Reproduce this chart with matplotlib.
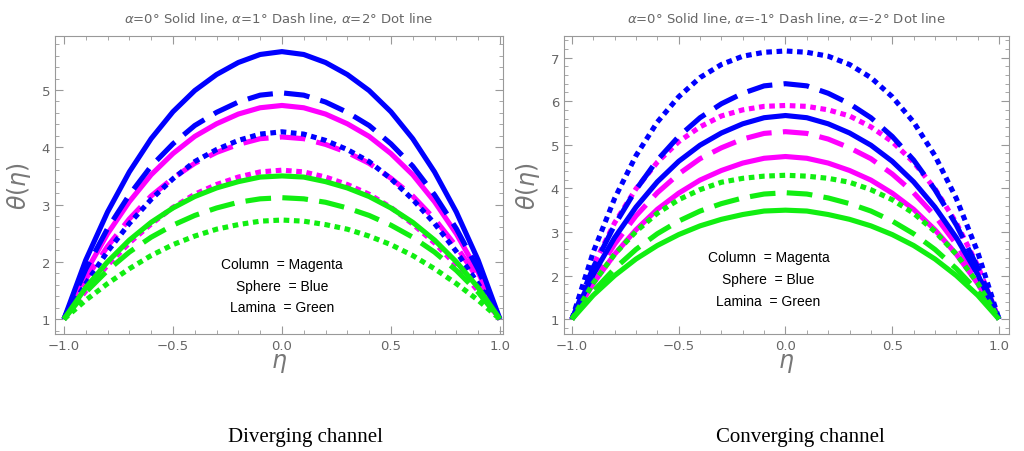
import numpy as np
import matplotlib
matplotlib.use("Agg")
from matplotlib import pyplot as plt
from matplotlib.ticker import MultipleLocator

plt.rcParams['mathtext.fontset'] = 'dejavusans'

# eta grid, -1 .. 1 in steps of 0.1
eta = np.round(np.arange(-1.0, 1.0001, 0.1), 2)

# Diverging channel (alpha = 0, 1, 2 deg)
div_sphere_0 = [1, 2.03, 2.87, 3.57, 4.15, 4.62, 4.99, 5.27, 5.48, 5.62, 5.67,
                5.62, 5.48, 5.27, 4.99, 4.62, 4.15, 3.57, 2.87, 2.03, 1]
div_sphere_1 = [1, 1.87, 2.58, 3.17, 3.67, 4.06, 4.38, 4.61, 4.79, 4.91, 4.95,
                4.91, 4.79, 4.61, 4.38, 4.06, 3.67, 3.17, 2.58, 1.87, 1]
div_sphere_2 = [1, 1.62, 2.18, 2.67, 3.09, 3.45, 3.75, 3.96, 4.12, 4.23, 4.27,
                4.23, 4.12, 3.96, 3.75, 3.45, 3.09, 2.67, 2.18, 1.62, 1]
div_column_0 = [1, 1.82, 2.49, 3.05, 3.52, 3.89, 4.19, 4.41, 4.58, 4.69, 4.73,
                4.69, 4.58, 4.41, 4.19, 3.89, 3.52, 3.05, 2.49, 1.82, 1]
div_column_1 = [1, 1.70, 2.27, 2.75, 3.15, 3.46, 3.72, 3.91, 4.05, 4.15, 4.18,
                4.15, 4.05, 3.91, 3.72, 3.46, 3.15, 2.75, 2.27, 1.70, 1]
div_column_2 = [1, 1.49, 1.94, 2.33, 2.66, 2.95, 3.18, 3.35, 3.48, 3.57, 3.60,
                3.57, 3.48, 3.35, 3.18, 2.95, 2.66, 2.33, 1.94, 1.49, 1]
div_lamina_0 = [1, 1.55, 2.00, 2.38, 2.69, 2.94, 3.14, 3.29, 3.40, 3.48, 3.50,
                3.48, 3.40, 3.29, 3.14, 2.94, 2.69, 2.38, 2.00, 1.55, 1]
div_lamina_1 = [1, 1.47, 1.85, 2.17, 2.43, 2.64, 2.81, 2.94, 3.04, 3.10, 3.12,
                3.10, 3.04, 2.94, 2.81, 2.64, 2.43, 2.17, 1.85, 1.47, 1]
div_lamina_2 = [1, 1.33, 1.62, 1.88, 2.11, 2.30, 2.45, 2.57, 2.65, 2.71, 2.73,
                2.71, 2.65, 2.57, 2.45, 2.30, 2.11, 1.88, 1.62, 1.33, 1]

# Converging channel (alpha = 0, -1, -2 deg)
con_sphere_0 = div_sphere_0
con_sphere_1 = [1, 2.19, 3.16, 3.97, 4.65, 5.19, 5.62, 5.94, 6.18, 6.35, 6.40,
                6.35, 6.18, 5.94, 5.62, 5.19, 4.65, 3.97, 3.16, 2.19, 1]
con_sphere_2 = [1, 2.54, 3.77, 4.75, 5.52, 6.10, 6.54, 6.84, 7.03, 7.12, 7.15,
                7.12, 7.03, 6.84, 6.54, 6.10, 5.52, 4.75, 3.77, 2.54, 1]
con_column_0 = div_column_0
con_column_1 = [1, 1.95, 2.72, 3.37, 3.90, 4.33, 4.68, 4.93, 5.13, 5.26, 5.30,
                5.26, 5.13, 4.93, 4.68, 4.33, 3.90, 3.37, 2.72, 1.95, 1]
con_column_2 = [1, 2.23, 3.21, 3.99, 4.60, 5.07, 5.41, 5.66, 5.80, 5.88, 5.90,
                5.88, 5.80, 5.66, 5.41, 5.07, 4.60, 3.99, 3.21, 2.23, 1]
con_lamina_0 = div_lamina_0
con_lamina_1 = [1, 1.64, 2.16, 2.60, 2.96, 3.25, 3.48, 3.65, 3.78, 3.87, 3.90,
                3.87, 3.78, 3.65, 3.48, 3.25, 2.96, 2.60, 2.16, 1.64, 1]
con_lamina_2 = [1, 1.83, 2.49, 3.01, 3.43, 3.74, 3.97, 4.14, 4.23, 4.28, 4.30,
                4.28, 4.23, 4.14, 3.97, 3.74, 3.43, 3.01, 2.49, 1.83, 1]

MAGENTA = '#ff00ff'
BLUE = '#0000ff'
GREEN = '#11ee11'
GRAY = '#999999'
LW = 3.7
styles = ['-', (0, (5, 2.2)), (0, (1.1, 0.9))]

fig = plt.figure(figsize=(10.24, 4.52), dpi=100)
ax1 = fig.add_axes([0.0537, 0.2588, 0.4375, 0.659])
ax2 = fig.add_axes([0.5508, 0.2588, 0.4346, 0.659])

panels = [
    (ax1, [div_column_0, div_column_1, div_column_2],
          [div_sphere_0, div_sphere_1, div_sphere_2],
          [div_lamina_0, div_lamina_1, div_lamina_2],
     r'$\alpha$=0° Solid line, $\alpha$=1° Dash line, $\alpha$=2° Dot line',
     (-1.041, 1.014), (0.74, 5.94), 0.0, [1.96, 1.58, 1.21], 'Diverging channel'),
    (ax2, [con_column_0, con_column_1, con_column_2],
          [con_sphere_0, con_sphere_1, con_sphere_2],
          [con_lamina_0, con_lamina_1, con_lamina_2],
     r'$\alpha$=0° Solid line, $\alpha$=-1° Dash line, $\alpha$=-2° Dot line',
     (-1.037, 1.047), (0.66, 7.49), -0.08, [2.42, 1.92, 1.41], 'Converging channel'),
]

for ax, column, sphere, lamina, title, xl, yl, tx, ty, caption in panels:
    for series, color in [(column, MAGENTA), (sphere, BLUE), (lamina, GREEN)]:
        for vals, ls in zip(series, styles):
            ax.plot(eta, vals, color=color, linestyle=ls, linewidth=LW,
                    dash_capstyle='butt', solid_capstyle='butt')

    ax.set_xlim(*xl)
    ax.set_ylim(*yl)
    ax.xaxis.set_major_locator(MultipleLocator(0.5))
    ax.xaxis.set_minor_locator(MultipleLocator(0.1))
    ax.yaxis.set_major_locator(MultipleLocator(1))
    ax.yaxis.set_minor_locator(MultipleLocator(0.2))
    ax.tick_params(which='both', direction='in', top=True, right=True,
                   color=GRAY, labelcolor='#666666', labelsize=9.5)
    ax.tick_params(which='major', length=6, width=0.8)
    ax.tick_params(which='minor', length=3, width=0.6)
    for s in ax.spines.values():
        s.set_color(GRAY)
    ax.set_xlabel(r'$\eta$', fontsize=17, color='#777777', labelpad=-1)
    ax.set_ylabel(r'$\theta(\eta)$', fontsize=17, color='#777777', labelpad=6)
    ax.set_title(title, fontsize=9.5, color='#666666', pad=10)

    for y, label in zip(ty, ['Column  = Magenta', 'Sphere  = Blue', 'Lamina  = Green']):
        ax.text(tx, y, label, ha='center', va='center', fontsize=10,
                family=['Liberation Sans Narrow', 'Liberation Sans'], color='black')

fig.text(0.298, 0.033, 'Diverging channel', ha='center', va='center',
         fontsize=15, family='Liberation Serif')
fig.text(0.782, 0.033, 'Converging channel', ha='center', va='center',
         fontsize=15, family='Liberation Serif')

fig.savefig('out.png', dpi=100)
